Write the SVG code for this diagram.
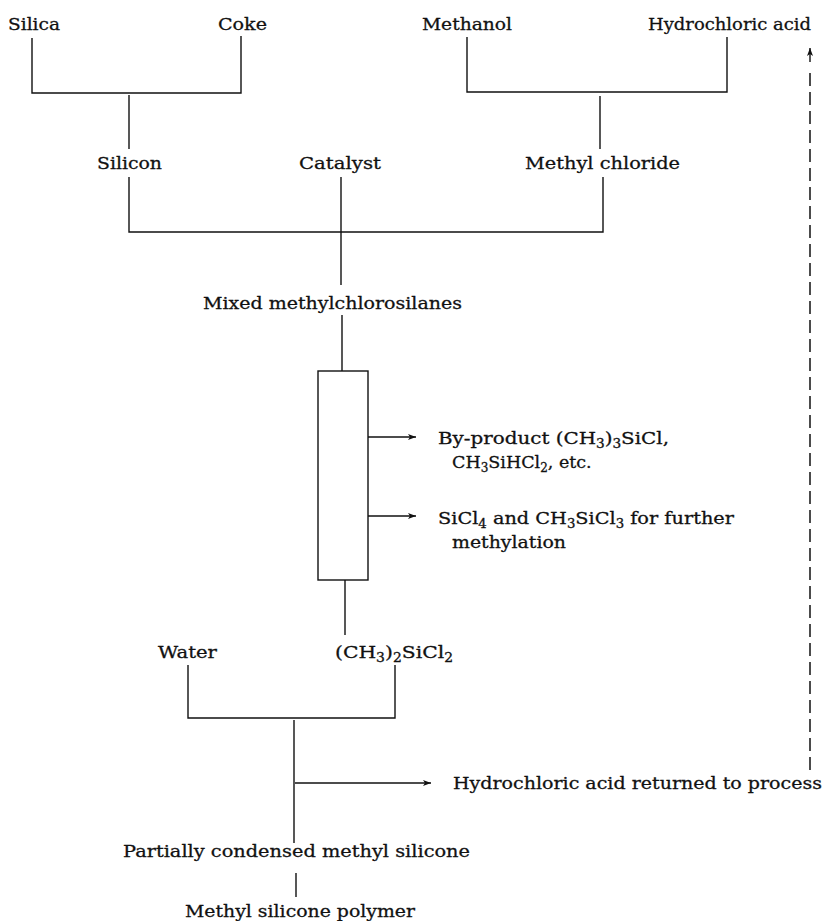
<svg xmlns="http://www.w3.org/2000/svg" width="826" height="921" viewBox="0 0 826 921">
<style>
  text { font-family: "DejaVu Serif", "Liberation Serif", serif; font-size: 17.5px; fill: #111; stroke: #111; stroke-width: 0.3; }
  .sub { font-size: 12px; }
  .ln { fill: none; stroke: #111; stroke-width: 1.4; }
  .dash { fill: none; stroke: #111; stroke-width: 1.5; stroke-dasharray: 13 6; }
</style>
<defs>
  <marker id="arr" markerUnits="userSpaceOnUse" markerWidth="10" markerHeight="8" refX="8" refY="4" orient="auto">
    <path d="M0,1 L8,4 L0,7 L2,4 z" fill="#111"/>
  </marker>
</defs>
<rect width="826" height="921" fill="#fff"/>

<g id="connectors">
  <path class="ln" d="M32 38 V93 H241 V36"/>
  <path class="ln" d="M129 95 V149"/>
  <path class="ln" d="M467 37 V92 H727 V37"/>
  <path class="ln" d="M600 96 V149"/>
  <path class="ln" d="M129 177 V232 H603 V177"/>
  <path class="ln" d="M341 177 V285"/>
  <path class="ln" d="M342 315 V371"/>
  <path class="ln" d="M345 580 V635"/>
  <path class="ln" d="M188 665 V718 H395 V665"/>
  <path class="ln" d="M294 720 V843"/>
  <path class="ln" d="M296 873 V897"/>
  <path class="ln" d="M368 437 H416" marker-end="url(#arr)"/>
  <path class="ln" d="M368 516 H416" marker-end="url(#arr)"/>
  <path class="ln" d="M295 783 H431" marker-end="url(#arr)"/>
  <path class="dash" d="M810 770 V73"/>
  <path class="ln" d="M810 62 V48" marker-end="url(#arr)"/>
</g>

<g id="silica"><text x="8" y="30" textLength="52" lengthAdjust="spacingAndGlyphs">Silica</text></g>
<g id="coke"><text x="218" y="30" textLength="49" lengthAdjust="spacingAndGlyphs">Coke</text></g>
<g id="methanol"><text x="422" y="30" textLength="90" lengthAdjust="spacingAndGlyphs">Methanol</text></g>
<g id="hydrochloric-acid"><text x="648" y="30" textLength="163" lengthAdjust="spacingAndGlyphs">Hydrochloric acid</text></g>
<g id="silicon"><text x="97" y="169" textLength="65" lengthAdjust="spacingAndGlyphs">Silicon</text></g>
<g id="catalyst"><text x="299" y="169" textLength="82" lengthAdjust="spacingAndGlyphs">Catalyst</text></g>
<g id="methyl-chloride"><text x="525" y="169" textLength="155" lengthAdjust="spacingAndGlyphs">Methyl chloride</text></g>
<g id="mixed"><text x="203" y="309" textLength="259" lengthAdjust="spacingAndGlyphs">Mixed methylchlorosilanes</text></g>
<g id="column"><rect class="ln" x="318" y="371" width="50" height="209"/></g>
<g id="byproduct">
  <text x="438" y="444" textLength="231" lengthAdjust="spacingAndGlyphs">By-product (CH<tspan class="sub" dy="4">3</tspan><tspan dy="-4">)</tspan><tspan class="sub" dy="4">3</tspan><tspan dy="-4">SiCl,</tspan></text>
  <text x="452" y="468">CH<tspan class="sub" dy="4">3</tspan><tspan dy="-4">SiHCl</tspan><tspan class="sub" dy="4">2</tspan><tspan dy="-4">, etc.</tspan></text>
</g>
<g id="sicl4">
  <text x="438" y="524" textLength="296" lengthAdjust="spacingAndGlyphs">SiCl<tspan class="sub" dy="4">4</tspan><tspan dy="-4"> and CH</tspan><tspan class="sub" dy="4">3</tspan><tspan dy="-4">SiCl</tspan><tspan class="sub" dy="4">3</tspan><tspan dy="-4"> for further</tspan></text>
  <text x="452" y="548" textLength="114" lengthAdjust="spacingAndGlyphs">methylation</text>
</g>
<g id="water"><text x="158" y="658" textLength="59" lengthAdjust="spacingAndGlyphs">Water</text></g>
<g id="dimethyldichlorosilane"><text x="335" y="658" textLength="118" lengthAdjust="spacingAndGlyphs">(CH<tspan class="sub" dy="4">3</tspan><tspan dy="-4">)</tspan><tspan class="sub" dy="4">2</tspan><tspan dy="-4">SiCl</tspan><tspan class="sub" dy="4">2</tspan></text></g>
<g id="hcl-returned"><text x="453" y="789" textLength="369" lengthAdjust="spacingAndGlyphs">Hydrochloric acid returned to process</text></g>
<g id="partially-condensed"><text x="123" y="857" textLength="347" lengthAdjust="spacingAndGlyphs">Partially condensed methyl silicone</text></g>
<g id="polymer"><text x="185" y="917" textLength="230" lengthAdjust="spacingAndGlyphs">Methyl silicone polymer</text></g>
</svg>
